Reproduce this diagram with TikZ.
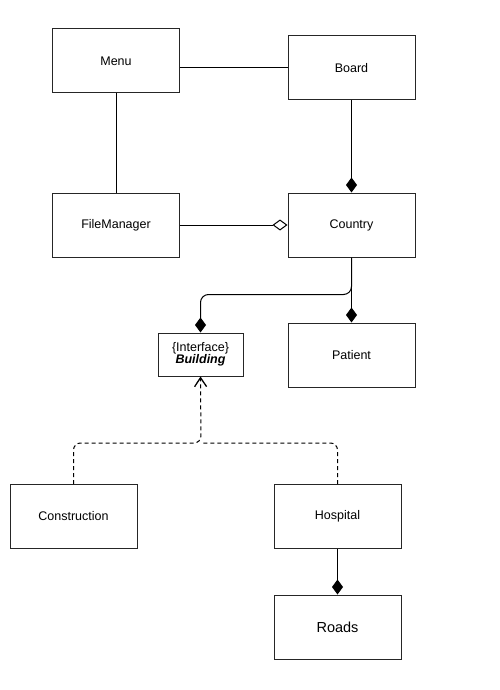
\documentclass[tikz,border=0pt]{standalone}
\usepackage{fontspec}
\setmainfont{Liberation Sans}
\usetikzlibrary{arrows.meta}
\begin{document}
\begin{tikzpicture}[x=1pt,y=-1pt,
  cls/.style={draw=black!85,line width=1pt,minimum width=127pt,minimum height=64pt,inner sep=0pt,font=\fontsize{12.5}{14}\selectfont},
  iface/.style={draw=black!85,line width=1pt,minimum width=85pt,minimum height=43pt,inner sep=0pt,align=center,font=\fontsize{12.5}{14}\selectfont},
  conn/.style={line width=1pt},
  comp/.style={conn,-{Diamond[length=15pt,width=11pt]}},
  aggr/.style={conn,-{Diamond[open,length=15pt,width=11pt,fill=white]}},
  dsh/.style={conn,dash pattern=on 4pt off 3pt,rounded corners=7pt},
  real/.style={dsh,-{Straight Barb[length=9pt,width=12pt,line width=1.3pt]}}]
\useasboundingbox (0,0) rectangle (499,690);
\node[cls] (menu) at (116,61) {Menu};
\node[cls] (board) at (351.5,68) {Board};
\node[cls] (fm) at (116,225) {FileManager};
\node[cls] (country) at (351.5,225) {Country};
\node[cls] (patient) at (351.5,355) {Patient};
\node[iface] (building) at (200.5,354.5) {\{Interface\}\\[-2pt]\textbf{\textit{Building}}};
\node[cls] (construction) at (73.5,516.5) {Construction};
\node[cls] (hospital) at (337.5,516.5) {Hospital};
\node[cls,font=\fontsize{14.5}{16}\selectfont] (roads) at (337.5,627) {Roads};
\coordinate (junc) at (201,443);
\draw[conn] (board.west) -- (board.west -| menu.east);
\draw[conn] (menu.south) -- (fm.north);
\draw[comp] (board.south) -- (country.north);
\draw[aggr] (fm.east) -- (country.west);
\draw[comp] (country.south) -- (patient.north);
\draw[comp,rounded corners=8pt] (country.south) -- ++(0,37) -| (building.north);
\draw[real] (construction.north) |- (junc) -- (building.south);
\draw[dsh] (hospital.north) |- (junc);
\draw[comp] (hospital.south) -- (roads.north);
\end{tikzpicture}
\end{document}
